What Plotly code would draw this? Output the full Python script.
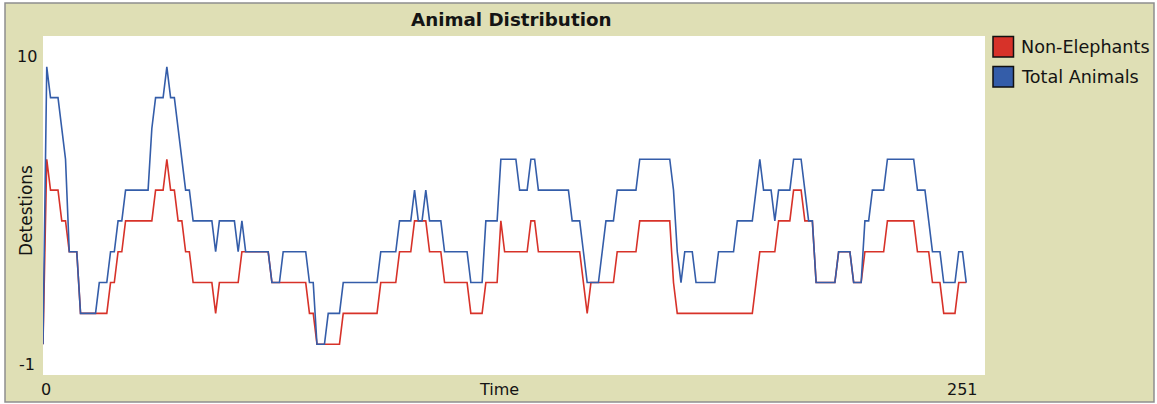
import plotly.graph_objects as go

# ---- data (one value per tick, t = 0..246) ----
time_ticks = list(range(247))

total_animals = [
    0, 9, 8, 8, 8, 7, 6, 3, 3, 3,
    1, 1, 1, 1, 1, 2, 2, 2, 3, 3,
    4, 4, 5, 5, 5, 5, 5, 5, 5, 7,
    8, 8, 8, 9, 8, 8, 7, 6, 5, 5,
    4, 4, 4, 4, 4, 4, 3, 4, 4, 4,
    4, 4, 3, 4, 3, 3, 3, 3, 3, 3,
    3, 2, 2, 2, 3, 3, 3, 3, 3, 3,
    3, 2, 2, 0, 0, 0, 1, 1, 1, 1,
    2, 2, 2, 2, 2, 2, 2, 2, 2, 2,
    3, 3, 3, 3, 3, 4, 4, 4, 4, 5,
    4, 4, 5, 4, 4, 4, 4, 3, 3, 3,
    3, 3, 3, 3, 2, 2, 2, 2, 4, 4,
    4, 4, 6, 6, 6, 6, 6, 5, 5, 5,
    6, 6, 5, 5, 5, 5, 5, 5, 5, 5,
    5, 4, 4, 4, 3, 2, 2, 2, 2, 3,
    4, 4, 4, 5, 5, 5, 5, 5, 5, 6,
    6, 6, 6, 6, 6, 6, 6, 6, 5, 3,
    2, 3, 3, 3, 2, 2, 2, 2, 2, 2,
    3, 3, 3, 3, 3, 4, 4, 4, 4, 4,
    5, 6, 5, 5, 5, 4, 5, 5, 5, 5,
    6, 6, 6, 5, 4, 4, 2, 2, 2, 2,
    2, 2, 3, 3, 3, 3, 2, 2, 2, 4,
    4, 5, 5, 5, 5, 6, 6, 6, 6, 6,
    6, 6, 6, 5, 5, 5, 4, 3, 3, 3,
    2, 2, 2, 2, 3, 3, 2,
]

non_elephants = [
    0, 6, 5, 5, 5, 4, 4, 3, 3, 3,
    1, 1, 1, 1, 1, 1, 1, 1, 2, 2,
    3, 3, 4, 4, 4, 4, 4, 4, 4, 4,
    5, 5, 5, 6, 5, 5, 4, 4, 3, 3,
    2, 2, 2, 2, 2, 2, 1, 2, 2, 2,
    2, 2, 2, 3, 3, 3, 3, 3, 3, 3,
    3, 2, 2, 2, 2, 2, 2, 2, 2, 2,
    2, 1, 1, 0, 0, 0, 0, 0, 0, 0,
    1, 1, 1, 1, 1, 1, 1, 1, 1, 1,
    2, 2, 2, 2, 2, 3, 3, 3, 3, 4,
    4, 4, 4, 3, 3, 3, 3, 2, 2, 2,
    2, 2, 2, 2, 1, 1, 1, 1, 2, 2,
    2, 2, 4, 3, 3, 3, 3, 3, 3, 3,
    4, 4, 3, 3, 3, 3, 3, 3, 3, 3,
    3, 3, 3, 3, 2, 1, 2, 2, 2, 2,
    2, 2, 2, 3, 3, 3, 3, 3, 3, 4,
    4, 4, 4, 4, 4, 4, 4, 4, 2, 1,
    1, 1, 1, 1, 1, 1, 1, 1, 1, 1,
    1, 1, 1, 1, 1, 1, 1, 1, 1, 1,
    2, 3, 3, 3, 3, 3, 4, 4, 4, 4,
    5, 5, 5, 4, 4, 4, 2, 2, 2, 2,
    2, 2, 3, 3, 3, 3, 2, 2, 2, 3,
    3, 3, 3, 3, 3, 4, 4, 4, 4, 4,
    4, 4, 4, 3, 3, 3, 3, 2, 2, 2,
    1, 1, 1, 1, 2, 2, 2,
]

series_names = ["Non-Elephants", "Total Animals"]
title_text = "Animal Distribution"
x_title = "Time"
y_title = "Detestions"
x_min, x_max = 0, 251
y_min, y_max = -1, 10
x_tick_labels = ["0", "251"]
y_tick_labels = ["-1", "10"]

# ---- styling ----
RED = "#D73229"
BLUE = "#345DA9"
KHAKI = "#DFDFB5"
TEXT = "#141414"
FONT = "DejaVu Sans"

W, H = 1157, 404
L, R, T, B = 43, 985, 36, 375  # plot area in pixels


def px(x):
    return (x - L) / (R - L)


def py(y):
    return (B - y) / (B - T)


fig = go.Figure()
for name, vals, col in [(series_names[0], non_elephants, RED),
                        (series_names[1], total_animals, BLUE)]:
    fig.add_trace(go.Scatter(
        x=time_ticks, y=vals, mode="lines", name=name,
        line=dict(color=col, width=1.6), showlegend=False, hoverinfo="skip",
    ))

shapes = [
    # widget background with border
    dict(type="rect", xref="paper", yref="paper",
         x0=px(5), x1=px(1154), y0=py(402), y1=py(3),
         fillcolor=KHAKI, line=dict(color="#8E8E8E", width=1.5), layer="below"),
    # white plotting area
    dict(type="rect", xref="paper", yref="paper", x0=0, x1=1, y0=0, y1=1,
         fillcolor="white", line=dict(width=0), layer="below"),
    # legend swatches
    dict(type="rect", xref="paper", yref="paper",
         x0=px(993), x1=px(1013.5), y0=py(57), y1=py(36.5),
         fillcolor=RED, line=dict(color="#111", width=1.5)),
    dict(type="rect", xref="paper", yref="paper",
         x0=px(993), x1=px(1013.5), y0=py(87), y1=py(66.5),
         fillcolor=BLUE, line=dict(color="#111", width=1.5)),
]


def ann(text, x, y, size=17, xanchor="center", bold=False, angle=0):
    return dict(text=f"<b>{text}</b>" if bold else text,
                xref="paper", yref="paper", x=px(x), y=py(y),
                xanchor=xanchor, yanchor="middle", showarrow=False,
                textangle=angle, font=dict(family=FONT, size=size, color=TEXT))


annotations = [
    ann(title_text, 511, 19, size=18.3, bold=True),
    ann(series_names[0], 1019, 47, size=17.6, xanchor="left"),
    ann(series_names[1], 1019, 77, size=17.6, xanchor="left"),
    ann(y_tick_labels[1], 27, 56, size=16),
    ann(y_tick_labels[0], 27, 364, size=16),
    ann(x_tick_labels[0], 45.5, 389, size=16),
    ann(x_tick_labels[1], 962, 389, size=16),
    ann(x_title, 499, 389, size=16),
    ann(y_title, 26, 211, size=17, angle=-90),
]

fig.update_layout(
    width=W, height=H, autosize=False,
    margin=dict(l=L, r=W - R, t=T, b=H - B, pad=0),
    paper_bgcolor="white", plot_bgcolor="rgba(0,0,0,0)",
    xaxis=dict(range=[x_min, x_max], showgrid=False, zeroline=False,
               showticklabels=False, ticks="", showline=False, fixedrange=True),
    yaxis=dict(range=[y_min, y_max], showgrid=False, zeroline=False,
               showticklabels=False, ticks="", showline=False, fixedrange=True),
    shapes=shapes, annotations=annotations, showlegend=False,
)

fig.write_html("out.html", config={"displayModeBar": False},
               post_script="document.body.style.margin='0';document.body.style.overflow='hidden';")
